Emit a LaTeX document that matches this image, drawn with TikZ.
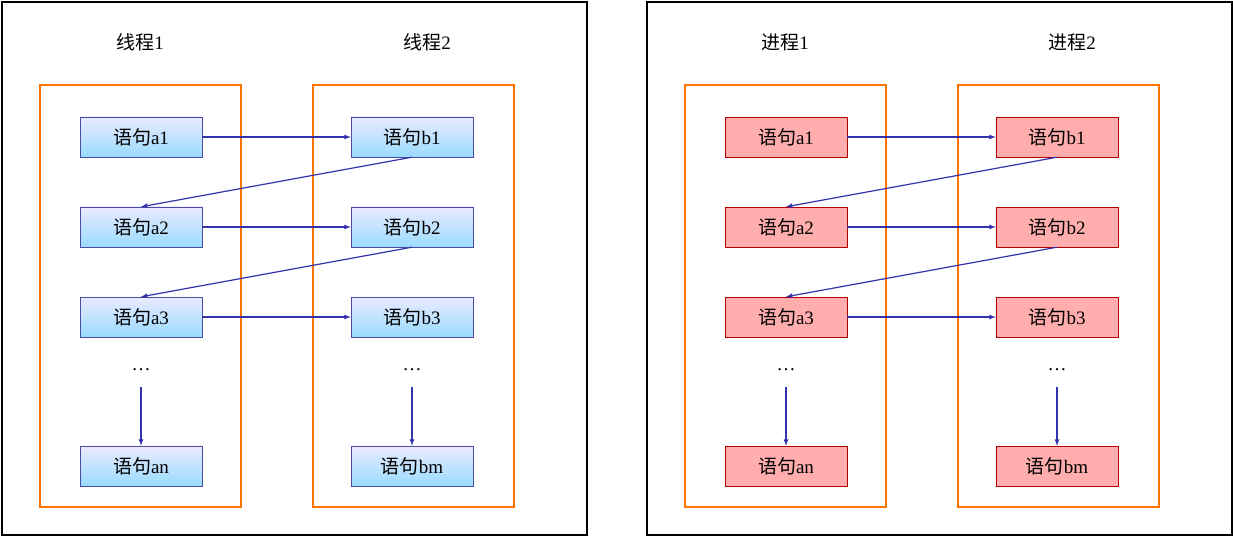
\documentclass[tikz,border=0pt]{standalone}
\usepackage{fontspec}
\setmainfont{Liberation Serif}
\newfontfamily\cjk{Noto Sans CJK SC}
\begin{document}
\begin{tikzpicture}[x=1pt,y=-1pt,
  outer/.style={draw=black,line width=1.3pt},
  orange/.style={draw=orange!90!red,line width=1.5pt},
  bnode/.style={draw=blue!50!black!70,top color=blue!8,bottom color=blue!35!cyan!40,minimum width=122pt,minimum height=40pt,inner sep=0pt,font=\fontsize{19}{20}\selectfont},
  rnode/.style={draw=red!70!black,fill=red!32,minimum width=122pt,minimum height=40pt,inner sep=0pt,font=\fontsize{19}{20}\selectfont},
  lbl/.style={font=\fontsize{19}{20}\selectfont},
  arr/.style={-latex,draw=blue!60!black!80,line width=1.2pt}]
\useasboundingbox (0,0) rectangle (1233,537);
\foreach \ox/\sty/\wname [count=\i] in {0/bnode/线程, 645/rnode/进程}{
  \begin{scope}[xshift=\ox]
  \draw[outer] (2,2) rectangle (587,535);
  \draw[orange] (40,85) rectangle (241,507);
  \draw[orange] (313,85) rectangle (514,507);
  \node[lbl] (t1\i) at (140,42) {{\cjk \wname}1};
  \node[lbl] (t2\i) at (427,42) {{\cjk \wname}2};
  \node[\sty] (a1\i) at (141,137) {{\cjk 语句}a1};
  \node[\sty] (a2\i) at (141,227) {{\cjk 语句}a2};
  \node[\sty] (a3\i) at (141,317) {{\cjk 语句}a3};
  \node[\sty] (an\i) at (141,466) {{\cjk 语句}an};
  \node[\sty] (b1\i) at (412,137) {{\cjk 语句}b1};
  \node[\sty] (b2\i) at (412,227) {{\cjk 语句}b2};
  \node[\sty] (b3\i) at (412,317) {{\cjk 语句}b3};
  \node[\sty] (bm\i) at (412,466) {{\cjk 语句}bm};
  \node[lbl,inner sep=1pt] (da\i) at (141,370) {…};
  \node[lbl,inner sep=1pt] (db\i) at (412,370) {…};
  \draw[arr] (a1\i) -- (b1\i);
  \draw[arr] (a2\i) -- (b2\i);
  \draw[arr] (a3\i) -- (b3\i);
  \draw[arr] (b1\i.south) -- (a2\i.north);
  \draw[arr] (b2\i.south) -- (a3\i.north);
  \draw[arr] (141,387) -- (an\i.north);
  \draw[arr] (412,387) -- (bm\i.north);
  \end{scope}}
\end{tikzpicture}
\end{document}
